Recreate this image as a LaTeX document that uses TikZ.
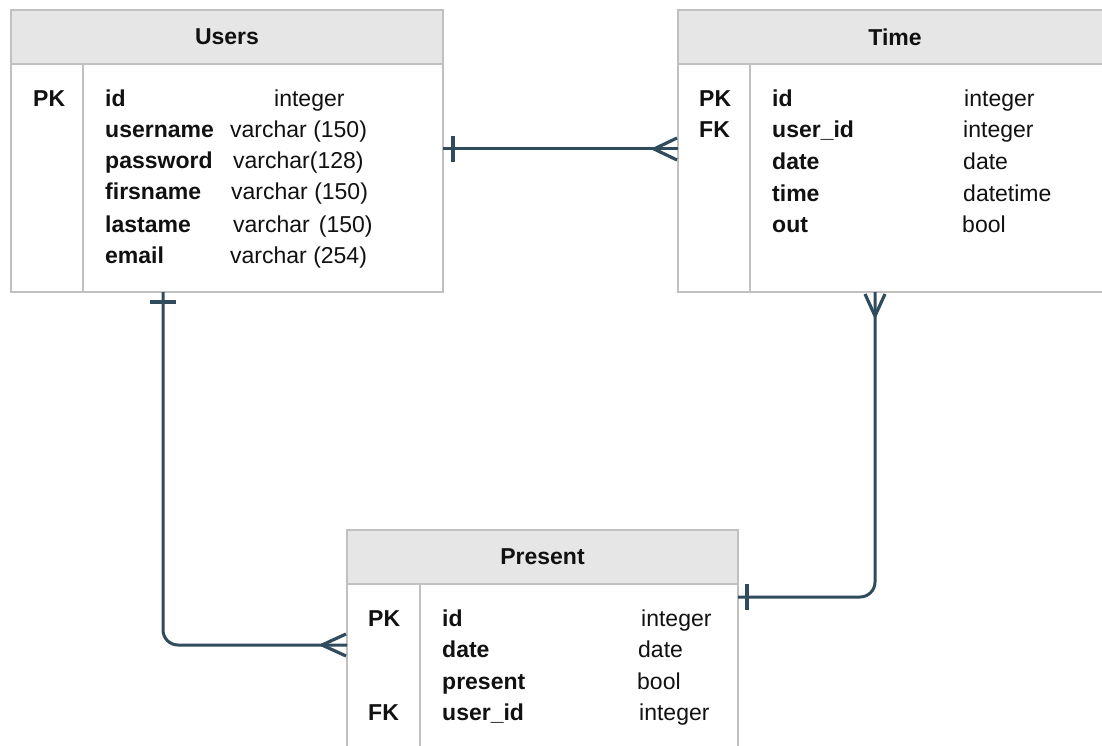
\documentclass[tikz,border=0pt]{standalone}
\usepackage{fontspec}
\setmainfont{Liberation Sans}
\usetikzlibrary{calc}
\definecolor{conn}{HTML}{2F4B5C}
\definecolor{hdrfill}{HTML}{E6E6E6}
\definecolor{bord}{HTML}{C0C0C0}
\definecolor{txt}{HTML}{111111}
\begin{document}
\begin{tikzpicture}[x=1pt,y=-1pt,
  tbl/.style={draw=bord, line width=1.5pt, inner sep=0pt, outer sep=0pt, anchor=north west},
  hdr/.style={tbl, fill=hdrfill, minimum height=54pt, font=\fontsize{23}{27}\selectfont\bfseries, text=txt},
  body/.style={tbl, fill=white},
  divline/.style={draw=bord, line width=1.5pt},
  keytxt/.style={anchor=base west, inner sep=0pt, font=\fontsize{23}{27}\selectfont\bfseries, text=txt},
  fldtxt/.style={keytxt},
  typtxt/.style={anchor=base west, inner sep=0pt, font=\fontsize{23}{27}\selectfont, text=txt},
  rel/.style={draw=conn, line width=3pt, rounded corners=15pt},
  ermk/.style={draw=conn, line width=3.2pt, line join=round}
]
\useasboundingbox (0,0) rectangle (1102,746);
\clip (0,0) rectangle (1102,746);

% ---------- Users ----------
\node[body, minimum width=432pt, minimum height=228pt] (usersB) at (11,64) {};
\node[hdr, minimum width=432pt] (usersH) at (11,10) {Users};
\draw[divline] (83,64) -- (83,292);
\node[keytxt] (uPK) at (33,107) {PK};
\node[fldtxt] (uf1) at (105,107) {id};
\node[typtxt] (ut1) at (274,107) {integer};
\node[fldtxt] (uf2) at (105,138) {username};
\node[typtxt] (ut2) at (230,138) {varchar (150)};
\node[fldtxt] (uf3) at (105,169) {password};
\node[typtxt] (ut3) at (233,169) {varchar(128)};
\node[fldtxt] (uf4) at (105,200) {firsname};
\node[typtxt] (ut4) at (231,200) {varchar (150)};
\node[fldtxt] (uf5) at (105,232) {lastame};
\node[typtxt] (ut5) at (233,232) {varchar\hspace{9pt}(150)};
\node[fldtxt] (uf6) at (105,263) {email};
\node[typtxt] (ut6) at (230,263) {varchar (254)};

% ---------- Time ----------
\node[body, minimum width=434pt, minimum height=228pt] (timeB) at (678,64) {};
\node[hdr, minimum width=434pt] (timeH) at (678,10) {Time};
\draw[divline] (750,64) -- (750,292);
\node[keytxt] (tPK) at (699,107) {PK};
\node[keytxt] (tFK) at (699,138) {FK};
\node[fldtxt] (tf1) at (772,107) {id};
\node[typtxt] (tt1) at (964,107) {integer};
\node[fldtxt] (tf2) at (772,138) {user\_id};
\node[typtxt] (tt2) at (963,138) {integer};
\node[fldtxt] (tf3) at (772,170) {date};
\node[typtxt] (tt3) at (963,170) {date};
\node[fldtxt] (tf4) at (772,201) {time};
\node[typtxt] (tt4) at (963,201) {datetime};
\node[fldtxt] (tf5) at (772,232) {out};
\node[typtxt] (tt5) at (962,232) {bool};

% ---------- Present ----------
\node[body, minimum width=391pt, minimum height=180pt] (presB) at (347,584) {};
\node[hdr, minimum width=391pt] (presH) at (347,530) {Present};
\draw[divline] (420,584) -- (420,760);
\node[keytxt] (pPK) at (368,626) {PK};
\node[keytxt] (pFK) at (368,720) {FK};
\node[fldtxt] (pf1) at (442,626) {id};
\node[typtxt] (pt1) at (641,626) {integer};
\node[fldtxt] (pf2) at (442,657) {date};
\node[typtxt] (pt2) at (638,657) {date};
\node[fldtxt] (pf3) at (442,689) {present};
\node[typtxt] (pt3) at (637,689) {bool};
\node[fldtxt] (pf4) at (442,720) {user\_id};
\node[typtxt] (pt4) at (639,720) {integer};

% ---------- Relations ----------
\coordinate (uR) at (443,149);
\coordinate (tL) at (678,149);
\draw[rel] (uR) -- (tL);
\draw[ermk] ($(uR)+(10,-13)$) -- ($(uR)+(10,13)$);
\draw[ermk] ($(tL)+(-1,-11)$) -- ($(tL)+(-24,0)$) -- ($(tL)+(-1,11)$);

\coordinate (uBot) at (163,292);
\coordinate (pL) at (347,645);
\draw[rel] (uBot) |- (pL);
\draw[ermk] ($(uBot)+(-13,10)$) -- ($(uBot)+(13,10)$);
\draw[ermk] ($(pL)+(-1,-11)$) -- ($(pL)+(-25,0)$) -- ($(pL)+(-1,11)$);

\coordinate (tBot) at (875,292);
\coordinate (pR) at (738,597);
\draw[rel] (tBot) |- (pR);
\draw[ermk] ($(tBot)+(-10,2)$) -- ($(tBot)+(0,24)$) -- ($(tBot)+(10,2)$);
\draw[ermk] ($(pR)+(9,-13)$) -- ($(pR)+(9,13)$);
\end{tikzpicture}
\end{document}
